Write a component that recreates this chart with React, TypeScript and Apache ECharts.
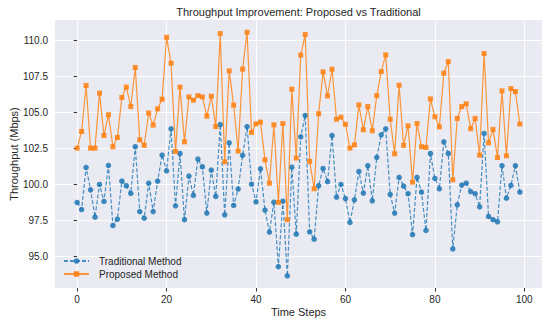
import React, { useEffect, useRef } from "react";
import * as echarts from "echarts";

const timeSteps: number[] = [
  0, 1, 2, 3, 4, 5, 6, 7, 8, 9, 10, 11, 12, 13, 14, 15, 16, 17, 18, 19,
  20, 21, 22, 23, 24, 25, 26, 27, 28, 29, 30, 31, 32, 33, 34, 35, 36, 37, 38, 39,
  40, 41, 42, 43, 44, 45, 46, 47, 48, 49, 50, 51, 52, 53, 54, 55, 56, 57, 58, 59,
  60, 61, 62, 63, 64, 65, 66, 67, 68, 69, 70, 71, 72, 73, 74, 75, 76, 77, 78, 79,
  80, 81, 82, 83, 84, 85, 86, 87, 88, 89, 90, 91, 92, 93, 94, 95, 96, 97, 98, 99,
];

const traditional: number[] = [
  98.73, 98.24, 101.16, 99.61, 97.71, 99.98, 98.8, 101.3, 97.13, 97.57,
  100.21, 99.89, 99.36, 102.6, 98.1, 97.64, 100.07, 98.1, 100.21, 102.02,
  100.93, 103.84, 98.5, 102.13, 97.53, 100.56, 99.22, 101.74, 101.21, 97.99,
  100.98, 99.15, 104.14, 97.87, 102.87, 98.52, 99.66, 102.0, 104.0, 100.0,
  98.77, 101.07, 98.2, 96.67, 98.75, 94.27, 98.82, 93.64, 101.18, 96.53,
  103.29, 104.77, 96.69, 96.18, 99.89, 101.09, 100.17, 103.38, 99.1, 99.98,
  99.0, 97.34, 98.91, 100.88, 99.38, 101.28, 98.84, 101.86, 103.43, 103.84,
  99.29, 97.99, 100.47, 99.87, 99.34, 96.49, 100.47, 99.45, 96.79, 102.13,
  100.4, 99.68, 102.94, 102.13, 95.5, 98.57, 99.94, 100.07, 99.49, 99.34,
  98.43, 103.52, 97.76, 97.53, 97.39, 101.28, 99.03, 99.91, 101.28, 99.45,
];

const proposed: number[] = [
  102.5, 103.66, 106.85, 102.5, 102.5, 106.32, 103.38, 104.82, 102.6, 103.24,
  106.02, 106.74, 105.39, 108.1, 103.08, 102.7, 104.94, 104.1, 105.23, 105.9,
  110.2, 108.4, 102.27, 106.74, 102.94, 106.06, 105.83, 106.15, 106.06, 104.72,
  106.11, 104.0, 110.46, 101.55, 107.87, 105.49, 102.3, 107.99, 110.55, 103.59,
  104.19, 104.31, 101.69, 100.07, 104.12, 98.73, 104.21, 97.53, 106.6, 101.81,
  108.96, 110.39, 101.58, 99.68, 104.89, 107.8, 106.13, 107.98, 104.51, 104.65,
  104.16, 102.5, 102.73, 105.51, 103.78, 105.39, 103.71, 106.15, 107.82, 108.98,
  104.51, 102.11, 106.87, 102.69, 104.05, 100.14, 104.21, 102.6, 102.55, 105.92,
  104.68, 103.98, 107.71, 108.52, 100.3, 104.56, 105.39, 105.58, 103.85, 104.56,
  102.02, 109.07, 102.87, 103.8, 101.85, 106.48, 101.97, 106.64, 106.43, 104.17,
];

const xTicks: number[] = [0, 20, 40, 60, 80, 100];
const yTicks: number[] = [95, 97.5, 100, 102.5, 105, 107.5, 110];

const FONT = "'Liberation Sans', Arial, sans-serif";
const TEXT = "#262626";

export default function App() {
  const ref = useRef<HTMLDivElement>(null);

  useEffect(() => {
    if (!ref.current) return;
    const chart = echarts.init(ref.current, undefined, { renderer: "svg" });
    const gridLeft = 55;
    const gridTop = 20;
    const gridWidth = 487;
    const gridHeight = 268;
    chart.setOption({
      animation: false,
      backgroundColor: "#ffffff",
      textStyle: { fontFamily: FONT },
      graphic: [
        {
          type: "rect",
          silent: true,
          z: -10,
          shape: { x: gridLeft, y: gridTop, width: gridWidth, height: gridHeight },
          style: { fill: "#EAEAF2" },
        },
        {
          type: "text",
          x: gridLeft + gridWidth / 2,
          y: 12,
          style: {
            text: "Throughput Improvement: Proposed vs Traditional",
            fontFamily: FONT,
            fontSize: 11,
            fill: TEXT,
            textAlign: "center",
            textVerticalAlign: "middle",
          },
        },
      ],
      grid: {
        left: gridLeft,
        top: gridTop,
        width: gridWidth,
        height: gridHeight,
        outerBoundsMode: "none",
        containLabel: false,
        show: false,
      },
      legend: {
        orient: "vertical",
        left: 58,
        top: 251,
        itemWidth: 25,
        itemHeight: 7,
        itemGap: 3,
        textStyle: { fontFamily: FONT, fontSize: 10, color: TEXT, padding: [0, 0, 0, 5] },
        data: ["Traditional Method", "Proposed Method"],
      },
      xAxis: {
        type: "value",
        min: -4.95,
        max: 103.95,
        name: "Time Steps",
        nameLocation: "middle",
        nameGap: 18,
        nameMoveOverlap: false,
        nameTextStyle: { fontFamily: FONT, fontSize: 11, color: TEXT },
        axisLine: { show: false },
        axisTick: {
          show: true,
          length: 3.5,
          customValues: xTicks,
          lineStyle: { color: "#333333", width: 1 },
        },
        axisLabel: {
          customValues: xTicks,
          fontFamily: FONT,
          fontSize: 10,
          color: TEXT,
          margin: 6,
        },
        splitLine: { show: true, lineStyle: { color: "#ffffff", width: 1 } },
      },
      yAxis: {
        type: "value",
        min: 92.79,
        max: 111.4,
        name: "Throughput (Mbps)",
        nameLocation: "middle",
        nameGap: 36,
        nameMoveOverlap: false,
        nameTextStyle: { fontFamily: FONT, fontSize: 11, color: TEXT },
        axisLine: { show: false },
        axisTick: {
          show: true,
          length: 3.5,
          customValues: yTicks,
          lineStyle: { color: "#333333", width: 1 },
        },
        axisLabel: {
          customValues: yTicks,
          fontFamily: FONT,
          fontSize: 10,
          color: TEXT,
          margin: 7,
          formatter: (v: number) => v.toFixed(1),
        },
        splitLine: { show: true, lineStyle: { color: "#ffffff", width: 1 } },
      },
      series: [
        {
          name: "Traditional Method",
          type: "line",
          data: timeSteps.map((t, i) => [t, traditional[i]]),
          symbol: "circle",
          symbolSize: 5.5,
          color: "#1f77b4",
          lineStyle: { color: "#1f77b4", width: 1.2, type: [4, 2], opacity: 0.8 },
          itemStyle: { color: "#1f77b4", opacity: 0.85 },
          z: 3,
        },
        {
          name: "Proposed Method",
          type: "line",
          data: timeSteps.map((t, i) => [t, proposed[i]]),
          symbol: "rect",
          symbolSize: 5,
          color: "#ff7f0e",
          lineStyle: { color: "#ff7f0e", width: 1.2, opacity: 0.8 },
          itemStyle: { color: "#ff7f0e", opacity: 0.85 },
          z: 4,
        },
      ],
    });
    return () => chart.dispose();
  }, []);

  return <div ref={ref} style={{ width: 550, height: 324, position: "absolute", left: 0, top: 0 }} />;
}
